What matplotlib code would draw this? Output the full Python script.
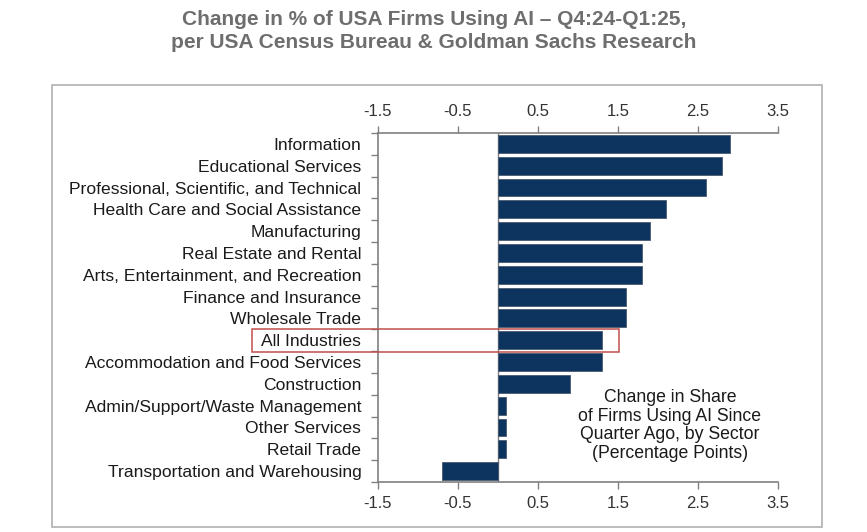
import matplotlib
matplotlib.use("Agg")
import matplotlib.pyplot as plt
from matplotlib.patches import Rectangle

categories = [
    "Information",
    "Educational Services",
    "Professional, Scientific, and Technical",
    "Health Care and Social Assistance",
    "Manufacturing",
    "Real Estate and Rental",
    "Arts, Entertainment, and Recreation",
    "Finance and Insurance",
    "Wholesale Trade",
    "All Industries",
    "Accommodation and Food Services",
    "Construction",
    "Admin/Support/Waste Management",
    "Other Services",
    "Retail Trade",
    "Transportation and Warehousing",
]
values = [2.9, 2.8, 2.6, 2.1, 1.9, 1.8, 1.8, 1.6, 1.6, 1.3, 1.3, 0.9, 0.1, 0.1, 0.1, -0.7]
xticks = [-1.5, -0.5, 0.5, 1.5, 2.5, 3.5]
xtick_labels = ["-1.5", "-0.5", "0.5", "1.5", "2.5", "3.5"]
title = "Change in % of USA Firms Using AI \u2013 Q4:24-Q1:25,\nper USA Census Bureau & Goldman Sachs Research"
note = "Change in Share\nof Firms Using AI Since\nQuarter Ago, by Sector\n(Percentage Points)"
highlight = "All Industries"

W, H = 867, 532
fig = plt.figure(figsize=(W / 100, H / 100), dpi=100)
fig.patch.set_facecolor("white")

# outer frame
fig.patches.append(Rectangle((52 / W, 1 - 527 / H), (822 - 52) / W, (527 - 85) / H,
                             transform=fig.transFigure, fill=False,
                             edgecolor="#b0b0b0", linewidth=1.2))

ax = fig.add_axes([378 / W, 1 - 482 / H, (777.7 - 378) / W, (482 - 133) / H])

bar_color = "#0c345f"
ypos = list(range(len(categories)))
ax.barh(ypos, values, height=0.82, color=bar_color, edgecolor="#4a5a6e", linewidth=0.6, zorder=3)
ax.axvline(0, color="#7f7f7f", linewidth=1, zorder=2)

ax.set_xlim(-1.5, 3.5)
ax.set_ylim(len(categories) - 0.5, -0.5)

ax.set_xticks(xticks)
ax.set_xticklabels(xtick_labels)
ax.tick_params(axis="x", which="both", top=True, bottom=True, labeltop=True, labelbottom=True,
               direction="out", length=5, width=1, color="#808080", labelsize=12,
               labelcolor="#333333", pad=5)
for lab in ax.get_xticklabels(which="both"):
    lab.set_family(["Liberation Sans", "DejaVu Sans"])

ax.set_yticks(ypos)
ax.set_yticklabels(categories, family=["Liberation Sans", "DejaVu Sans"], fontsize=12.6, color="#1a1a1a")
ax.tick_params(axis="y", which="major", length=0, pad=12)
ax.set_yticks([i + 0.5 for i in range(-1, len(categories))], minor=True)
ax.tick_params(axis="y", which="minor", length=5, width=1, color="#808080", direction="out")

for s in ["top", "bottom", "left"]:
    ax.spines[s].set_color("#808080")
    ax.spines[s].set_linewidth(1.2)
ax.spines["right"].set_visible(False)

# highlight box
hi = categories.index(highlight)
ax.add_patch(Rectangle((-3.08, hi - 0.53), 1.52 + 3.08, 1.06, fill=False,
                       edgecolor="#c0504d", linewidth=1.1, clip_on=False, zorder=5))

ax.text(2.15, 12.9, note, ha="center", va="center", fontsize=12.7,
        family=["Liberation Sans", "DejaVu Sans"], color="#1a1a1a", linespacing=1.12)

fig.text(434 / W, 1 - 31 / H, title, ha="center", va="center", fontsize=15.0,
         fontweight="bold", color="#6e6e6e", linespacing=1.3,
         family=["Liberation Sans", "DejaVu Sans"])

fig.savefig("out.png", dpi=100, facecolor="white")
